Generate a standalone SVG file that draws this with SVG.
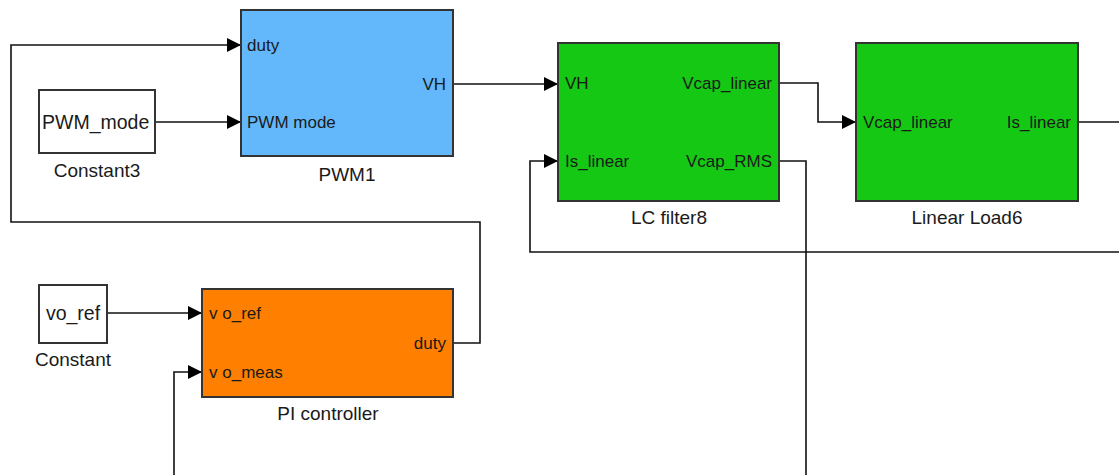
<svg xmlns="http://www.w3.org/2000/svg" width="1119" height="475" viewBox="0 0 1119 475">
<style>
  .blk { stroke: #333; stroke-width: 2; }
  .port { font-family: "Liberation Sans", Arial, sans-serif; font-size: 17px; fill: #1a1a1a; }
  .name { font-family: "Liberation Sans", Arial, sans-serif; font-size: 19px; fill: #1a1a1a; text-anchor: middle; }
  .cval { font-family: "Liberation Sans", Arial, sans-serif; font-size: 19.5px; fill: #1a1a1a; }
  .wire { fill: none; stroke: #111; stroke-width: 1.6; }
  .end { text-anchor: end; }
</style>
<defs>
  <marker id="arr" markerWidth="14" markerHeight="14" refX="14" refY="7" orient="auto" markerUnits="userSpaceOnUse">
    <path d="M0,0 L14,7 L0,14 z" fill="#000"/>
  </marker>
</defs>
<rect width="1119" height="475" fill="#fff"/>

<g id="connectors">
  <path class="wire" d="M453,343 H480 V222 H11 V45 H241" marker-end="url(#arr)"/>
  <path class="wire" d="M155,122 H241" marker-end="url(#arr)"/>
  <path class="wire" d="M453,84 H558" marker-end="url(#arr)"/>
  <path class="wire" d="M779,83 H818 V122 H856" marker-end="url(#arr)"/>
  <path class="wire" d="M1078,122 H1119"/>
  <path class="wire" d="M1119,252 H530 V161 H558" marker-end="url(#arr)"/>
  <path class="wire" d="M779,161 H806 V475"/>
  <path class="wire" d="M107,313 H202" marker-end="url(#arr)"/>
  <path class="wire" d="M174,475 V372 H202" marker-end="url(#arr)"/>
</g>

<g id="constant3">
  <rect class="blk" x="39" y="90" width="116" height="63" fill="#fff"/>
  <text class="cval" x="42" y="129">PWM_mode</text>
  <text class="name" x="97" y="177">Constant3</text>
</g>

<g id="pwm1">
  <rect class="blk" x="241" y="10" width="212" height="146" fill="#62b8fa"/>
  <text class="port" x="247" y="51">duty</text>
  <text class="port" x="247" y="128">PWM mode</text>
  <text class="port end" x="446" y="90">VH</text>
  <text class="name" x="347" y="181">PWM1</text>
</g>

<g id="lcfilter8">
  <rect class="blk" x="558" y="43" width="221" height="158" fill="#14c814"/>
  <text class="port" x="565" y="89">VH</text>
  <text class="port" x="565" y="167">Is_linear</text>
  <text class="port end" x="772" y="89">Vcap_linear</text>
  <text class="port end" x="772" y="167">Vcap_RMS</text>
  <text class="name" x="669" y="224">LC filter8</text>
</g>

<g id="linearload6">
  <rect class="blk" x="856" y="43" width="222" height="158" fill="#14c814"/>
  <text class="port" x="863" y="128">Vcap_linear</text>
  <text class="port end" x="1071" y="128">Is_linear</text>
  <text class="name" x="967" y="224">Linear Load6</text>
</g>

<g id="constant">
  <rect class="blk" x="39" y="285" width="68" height="58" fill="#fff"/>
  <text class="cval" x="73" y="320" text-anchor="middle">vo_ref</text>
  <text class="name" x="73" y="366">Constant</text>
</g>

<g id="picontroller">
  <rect class="blk" x="202" y="289" width="251" height="108" fill="#ff8000"/>
  <text class="port" x="209" y="319">v o_ref</text>
  <text class="port" x="209" y="378">v o_meas</text>
  <text class="port end" x="446" y="349">duty</text>
  <text class="name" x="328" y="420">PI controller</text>
</g>
</svg>
